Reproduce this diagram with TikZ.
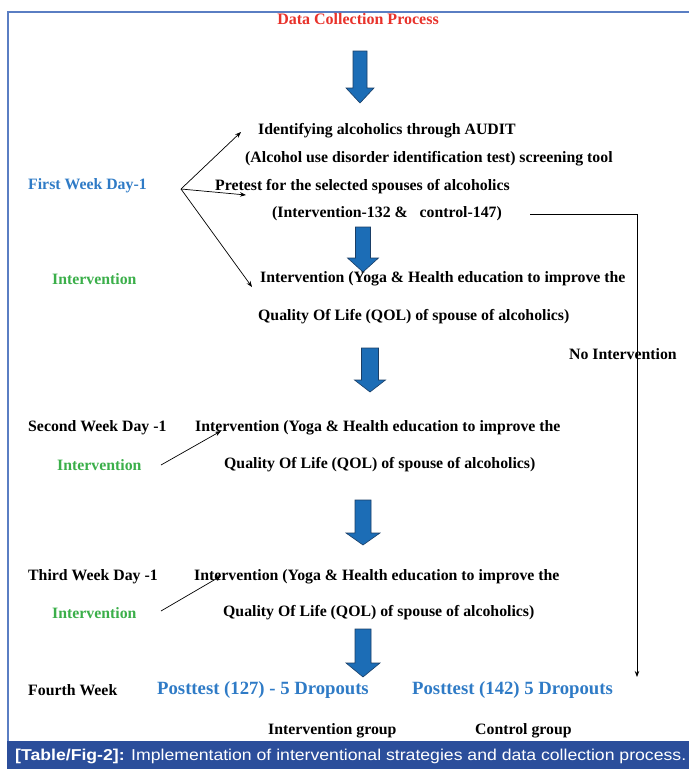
\documentclass[tikz,border=0pt]{standalone}
\usepackage{fontspec}
\setmainfont{Liberation Serif}
\newfontfamily\capfont{Liberation Sans}
\usetikzlibrary{arrows.meta}
\definecolor{titlered}{HTML}{E8322B}
\definecolor{wkblue}{HTML}{2F7BC6}
\definecolor{wkgreen}{HTML}{3BAF4A}
\definecolor{arrfill}{HTML}{1C6DB6}
\definecolor{arredge}{HTML}{1A3E66}
\definecolor{framecol}{HTML}{5A7EC3}
\definecolor{barcol}{HTML}{2B4E9B}
\newcommand\blockarr[6]{%
  \filldraw[fill=arrfill,draw=arredge,line width=0.6pt]
    ({#1-#5},#2) -- ({#1+#5},#2) -- ({#1+#5},#3) -- ({#1+#6},#3) -- (#1,#4)
    -- ({#1-#6},#3) -- ({#1-#5},#3) -- cycle;}
\begin{document}
\begin{tikzpicture}[x=1pt,y=-1pt,
  txt/.style={anchor=west,inner sep=0pt,font=\fontsize{15.8}{18}\selectfont\bfseries},
  big/.style={anchor=west,inner sep=0pt,font=\fontsize{18.7}{21}\selectfont\bfseries,text=wkblue},
  thin/.style={-{Stealth[length=6pt,width=4.5pt]},line width=0.7pt}]
\useasboundingbox (0,0) rectangle (689,769);
% frame
\draw[framecol,line width=1.4pt] (8,742) -- (8,12) -- (689,12);
\fill[barcol] (7,741) rectangle (689,769);
\node[anchor=west,inner sep=0pt,text=white] (cap) at (15,756)
  {\resizebox{671pt}{!}{\scalebox{1.12}[1]{\capfont\fontsize{15.5}{18}\selectfont\textbf{[Table/Fig-2]:} Implementation of interventional strategies and data collection process.}}};
% title
\node[inner sep=0pt,font=\fontsize{16}{18}\selectfont\bfseries,text=titlered] (title) at (358,19) {Data Collection Process};
% block arrows
\blockarr{360}{51}{88}{103}{7}{14}
\blockarr{363}{227}{258}{272}{7.5}{15.5}
\blockarr{370}{348}{380}{392}{8.5}{15.5}
\blockarr{363}{500}{533}{545}{8}{17}
\blockarr{363}{629}{663}{677}{8}{17}
% texts
\node[txt] (id1) at (258,131) {Identifying alcoholics through AUDIT};
\node[txt] (id2) at (245,159) {(Alcohol use disorder identification test) screening tool};
\node[txt,text=wkblue] (fw) at (28,186) {First Week Day-1};
\node[txt] (pre) at (215,187) {Pretest for the selected spouses of alcoholics};
\node[txt] (ctrl) at (272,214) {(Intervention-132 \&\ \ \ control-147)};
\node[txt,text=wkgreen] (il1) at (52,279) {Intervention};
\node[txt] (i1a) at (260,279) {Intervention (Yoga \& Health education to improve the};
\node[txt] (i1b) at (258,317) {Quality Of Life (QOL) of spouse of alcoholics)};
\node[txt] (noint) at (569,354) {No Intervention};
\node[txt] (sw) at (28,428) {Second Week Day -1};
\node[txt] (i2a) at (195,428) {Intervention (Yoga \& Health education to improve the};
\node[txt,text=wkgreen] (il2) at (57,465) {Intervention};
\node[txt] (i2b) at (224,465) {Quality Of Life (QOL) of spouse of alcoholics)};
\node[txt] (tw) at (28,577) {Third Week Day -1};
\node[txt] (i3a) at (194,577) {Intervention (Yoga \& Health education to improve the};
\node[txt,text=wkgreen] (il3) at (52,613) {Intervention};
\node[txt] (i3b) at (223,613) {Quality Of Life (QOL) of spouse of alcoholics)};
\node[txt] (fourth) at (28,690) {Fourth Week};
\node[big] (post1) at (157,690) {Posttest (127) - 5 Dropouts};
\node[big] (post2) at (412,690) {Posttest (142) 5 Dropouts};
\node[txt] (ig) at (268,731) {Intervention group};
\node[txt] (cg) at (475,731) {Control group};
% thin connectors
\coordinate (o1) at (181,189);
\coordinate (t1) at (241,132);
\coordinate (t2) at (246,195);
\coordinate (t3) at (252,287);
\draw[thin] (o1) -- (t1);
\draw[thin] (o1) -- (t2);
\draw[thin] (o1) -- (t3);
\coordinate (o2) at (161,465);
\coordinate (t4) at (221,431);
\draw[thin] (o2) -- (t4);
\coordinate (o3) at (161,611);
\coordinate (t5) at (221,576);
\draw[thin] (o3) -- (t5);
\coordinate (r0) at (530,214);
\coordinate (r1) at (637,214);
\coordinate (r2) at (637,677);
\draw[thin,line width=0.8pt] (r0) -- (r1) -- (r2);
\end{tikzpicture}
\end{document}
